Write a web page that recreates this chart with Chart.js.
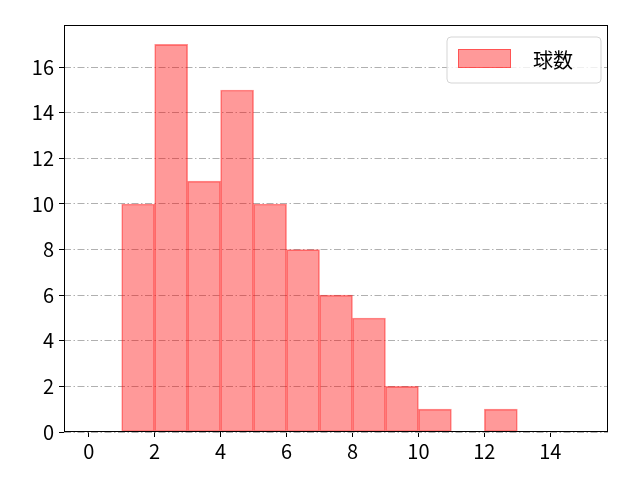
<!DOCTYPE html>
<html>
<head>
<meta charset="utf-8">
<script src="https://cdn.jsdelivr.net/npm/chart.js@4"></script>
<style>
  body { margin: 0; background: #fff; }
  #wrap { width: 640px; height: 480px; }
</style>
</head>
<body>
<div id="wrap"><canvas id="chart"></canvas></div>
<script>
// histogram bins (left edges, width 1) and counts
const binEdges = [0, 1, 2, 3, 4, 5, 6, 7, 8, 9, 10, 11, 12, 13, 14];
const counts = [0, 10, 17, 11, 15, 10, 8, 6, 5, 2, 1, 0, 1, 0, 0];
const xTicks = [0, 2, 4, 6, 8, 10, 12, 14];
const yTicks = [0, 2, 4, 6, 8, 10, 12, 14, 16];
const seriesName = '球数';

const FONT = '"Noto Sans CJK JP", "DejaVu Sans", sans-serif';
const FILL = 'rgba(255, 0, 0, 0.4)';
const EDGE = 'rgba(255, 0, 0, 0.45)';

// box around the plot + legend drawn inside the plot like matplotlib
const framePlugin = {
    id: 'frame',
    afterDraw(c) {
        const ctx = c.ctx;
        const a = c.chartArea;
        ctx.save();
        ctx.strokeStyle = '#000';
        ctx.lineWidth = 1;
        ctx.strokeRect(a.left + 0.5, a.top + 0.5, a.right - a.left - 1, a.bottom - a.top - 1);

        const w = 154, h = 46;
        const x = a.right - 7 - w, y = a.top + 12;
        ctx.beginPath();
        ctx.roundRect(x, y, w, h, 4);
        ctx.fillStyle = 'rgba(255,255,255,0.8)';
        ctx.fill();
        ctx.strokeStyle = '#d5d5d5';
        ctx.stroke();

        ctx.fillStyle = FILL;
        ctx.fillRect(x + 11, y + 12, 53, 19);
        ctx.strokeStyle = EDGE;
        ctx.strokeRect(x + 11.5, y + 12.5, 52, 18);

        ctx.fillStyle = '#000';
        ctx.font = '20px ' + FONT;
        ctx.textBaseline = 'middle';
        ctx.textAlign = 'left';
        ctx.fillText(seriesName, x + 86, y + 23);
        ctx.restore();
    }
};

new Chart(document.getElementById('chart'), {
    type: 'bar',
    data: {
        datasets: [{
            label: seriesName,
            data: binEdges.map((e, i) => ({ x: e + 0.5, y: counts[i] })),
            backgroundColor: FILL,
            borderColor: EDGE,
            borderWidth: ctx => (ctx.raw && ctx.raw.y > 0 ? 1 : 0),
            borderSkipped: false,
            barPercentage: 1,
            categoryPercentage: 1
        }]
    },
    options: {
        responsive: true,
        maintainAspectRatio: false,
        animation: false,
        layout: { padding: { left: 0, top: 25, right: 32, bottom: 0 } },
        plugins: {
            legend: { display: false },
            tooltip: { enabled: false }
        },
        scales: {
            x: {
                type: 'linear',
                min: -0.75,
                max: 15.75,
                offset: false,
                afterBuildTicks: s => { s.ticks = xTicks.map(v => ({ value: v })); },
                afterFit: s => { s.height = 48; },
                grid: {
                    offset: false,
                    drawOnChartArea: false,
                    tickLength: 5,
                    tickColor: '#000'
                },
                border: { display: false },
                ticks: {
                    color: '#000',
                    font: { family: FONT, size: 20 },
                    padding: 2,
                    maxRotation: 0
                }
            },
            y: {
                min: 0,
                max: 17.85,
                afterBuildTicks: s => { s.ticks = yTicks.map(v => ({ value: v })); },
                afterFit: s => { s.width = 64; },
                grid: {
                    color: '#b0b0b0',
                    tickLength: 5,
                    tickColor: '#000',
                    tickBorderDash: []
                },
                border: { display: false, dash: [7, 2.5, 1.5, 2.5] },
                ticks: {
                    color: '#000',
                    font: { family: FONT, size: 20 },
                    padding: 5
                }
            }
        }
    },
    plugins: [framePlugin]
});
</script>
</body>
</html>
